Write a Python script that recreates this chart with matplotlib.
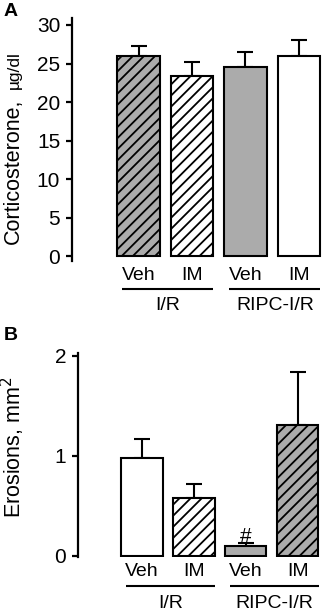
import matplotlib
matplotlib.use("Agg")
import matplotlib.pyplot as plt
from matplotlib.transforms import blended_transform_factory

plt.rcParams['font.family'] = ['Liberation Sans', 'DejaVu Sans']
plt.rcParams['hatch.linewidth'] = 1.3

# ---- data ----
treatments = ["Veh", "IM", "Veh", "IM"]
groups = ["I/R", "RIPC-I/R"]
cort_values = [26.0, 23.4, 24.5, 26.0]
cort_errors = [1.3, 1.8, 2.0, 2.0]
cort_ticks = [0, 5, 10, 15, 20, 25, 30]
eros_values = [0.98, 0.58, 0.10, 1.31]
eros_errors = [0.19, 0.14, 0.03, 0.53]
eros_ticks = [0, 1, 2]
eros_marks = ["", "", "#", ""]

W, H = 325, 613
fig = plt.figure(figsize=(W / 100, H / 100), dpi=100)

GRAY = "#ababab"
styleA = [dict(color=GRAY, hatch="///"), dict(color="white", hatch="///"),
          dict(color=GRAY, hatch=""), dict(color="white", hatch="")]
styleB = [dict(color="white", hatch=""), dict(color="white", hatch="///"),
          dict(color=GRAY, hatch=""), dict(color=GRAY, hatch="///")]

FS_TICK = 15
FS_LAB = 14
FS_Y = 15.5


def fy(px):
    return 1 - px / H


def make_panel(rect, values, errors, ticks, ylim, xlim, styles, width,
               lab_y, line_y, grp_y, letter, letter_xy, tickfmt, marks=None):
    ax = fig.add_axes(rect)
    x = list(range(len(values)))
    for xi, v, e, st in zip(x, values, errors, styles):
        ax.bar(xi, v, width=width, color=st["color"], hatch=st["hatch"],
               edgecolor="black", linewidth=1.5, zorder=2)
        ax.errorbar(xi, v, yerr=[[0], [e]], fmt="none", ecolor="black",
                    elinewidth=1.5, capsize=5.5, capthick=1.5, zorder=1)
    if marks:
        for xi, v, e, m in zip(x, values, errors, marks):
            if m:
                ax.annotate(m, (xi, v + e), xytext=(0, -2.5),
                            textcoords="offset points", ha="center",
                            va="bottom", fontsize=15)
    ax.set_xlim(*xlim)
    ax.set_ylim(*ylim)
    ax.set_yticks(ticks)
    ax.set_yticklabels([tickfmt(t) for t in ticks])
    ax.set_xticks([])
    for s in ["top", "right", "bottom"]:
        ax.spines[s].set_visible(False)
    ax.spines["left"].set_linewidth(1.6)
    ax.tick_params(axis="y", length=4.5, width=1.6, labelsize=FS_TICK, pad=4)
    tr = blended_transform_factory(ax.transData, fig.transFigure)
    for xi, t in zip(x, treatments):
        ax.text(xi, fy(lab_y), t, transform=tr, ha="center", va="center",
                fontsize=FS_LAB)
    for gi, g in enumerate(groups):
        x0, x1 = 2 * gi - 0.3, 2 * gi + 1.4
        ax.plot([x0, x1], [fy(line_y)] * 2, transform=tr, color="black",
                lw=1.5, clip_on=False, solid_capstyle="butt")
        ax.text((x0 + x1) / 2, fy(grp_y), g, transform=tr, ha="center",
                va="center", fontsize=FS_LAB)
    fig.text(letter_xy[0] / W, fy(letter_xy[1]), letter, fontsize=14,
             fontweight="bold", ha="center", va="center")
    return ax


axA = make_panel([72 / W, fy(260.7), (W - 72) / W, (260.7 - 18) / H],
                 cort_values, cort_errors, cort_ticks, (-0.55, 30.9),
                 (-1.243, 3.486), styleA, 0.8,
                 275, 289, 306, "A", (11, 12), lambda t: f"{t:d}")
fig.text(13 / W, fy(244), "Corticosterone,", rotation=90, ha="center",
         va="bottom", fontsize=FS_Y)
fig.text(14 / W, fy(89), "\u00b5g/dl", rotation=90, ha="center",
         va="bottom", fontsize=12.5)

axB = make_panel([78 / W, fy(557), (W - 78) / W, (557 - 353) / H],
                 eros_values, eros_errors, eros_ticks, (-0.013, 2.027),
                 (-1.23, 3.52), styleB, 0.79,
                 572, 586, 603, "B", (11, 336), lambda t: f"{t:d}",
                 marks=eros_marks)
fig.text(13 / W, fy(447), "Erosions, mm$^2$", rotation=90, ha="center",
         va="center", fontsize=FS_Y)

fig.savefig("out.png", dpi=100)
